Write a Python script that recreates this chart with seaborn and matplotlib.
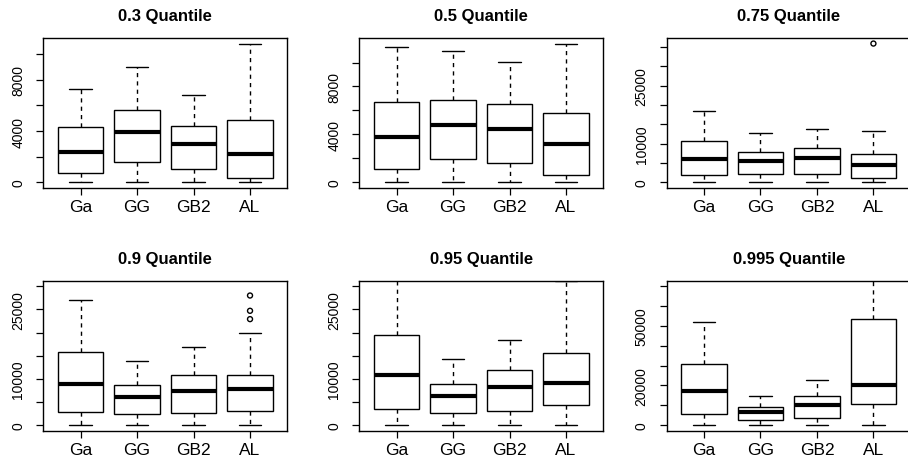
import numpy as np
import pandas as pd
import matplotlib
matplotlib.use("Agg")
import matplotlib.pyplot as plt
import seaborn as sns

sns.set_style("ticks")
plt.rcParams["font.family"] = ["Liberation Sans", "DejaVu Sans"]
plt.rcParams["text.color"] = "black"
plt.rcParams["xtick.color"] = "black"
plt.rcParams["ytick.color"] = "black"
plt.rcParams["axes.labelcolor"] = "black"

methods = ["Ga", "GG", "GB2", "AL"]
titles = ["0.3 Quantile", "0.5 Quantile", "0.75 Quantile",
          "0.9 Quantile", "0.95 Quantile", "0.995 Quantile"]

# five-number summaries: [lower whisker, Q1, median, Q3, upper whisker]
q030 = {"Ga": [0, 750, 2390, 4290, 7300], "GG": [0, 1580, 3920, 5610, 8990],
        "GB2": [0, 1060, 3010, 4440, 6780], "AL": [0, 360, 2230, 4880, 10830]}
q050 = {"Ga": [0, 1140, 3780, 6670, 11330], "GG": [0, 1940, 4780, 6860, 10970],
        "GB2": [0, 1580, 4470, 6530, 10030], "AL": [0, 610, 3220, 5750, 11580]}
q075 = {"Ga": [0, 1900, 6000, 10800, 18400], "GG": [0, 2300, 5500, 7900, 12800],
        "GB2": [0, 2200, 6200, 9000, 13800], "AL": [0, 1200, 4500, 7400, 13200]}
q090 = {"Ga": [0, 2800, 8900, 15900, 27000], "GG": [0, 2500, 6100, 8700, 13900],
        "GB2": [0, 2700, 7400, 10900, 16800], "AL": [0, 3000, 7800, 10800, 20000]}
q095 = {"Ga": [0, 3400, 10900, 19500, 36000], "GG": [0, 2600, 6200, 8900, 14200],
        "GB2": [0, 3000, 8200, 12000, 18300], "AL": [0, 4300, 9200, 15500, 31100]}
q0995 = {"Ga": [0, 5400, 17200, 30800, 52200], "GG": [0, 2700, 6400, 9300, 14800],
         "GB2": [0, 3500, 10100, 14800, 22700], "AL": [0, 10800, 20200, 53500, 90000]}

# outliers
out030 = {}
out050 = {}
out075 = {"AL": [35900]}
out090 = {"AL": [28000, 24700, 22900]}
out095 = {}
out0995 = {}

summaries = [q030, q050, q075, q090, q095, q0995]
outliers = [out030, out050, out075, out090, out095, out0995]

ylims = [None, None, None, (0, 30000), (0, 30000), (0, 70000)]
yticks = [np.arange(0, 10001, 2000), np.arange(0, 10001, 2000),
          np.arange(0, 35001, 5000), np.arange(0, 30001, 5000),
          np.arange(0, 30001, 5000), np.arange(0, 70001, 10000)]
ylabels_shown = [[0, 4000, 8000], [0, 4000, 8000], [0, 10000, 25000],
                 [0, 10000, 25000], [0, 10000, 25000], [0, 20000, 50000]]

W, H = 908, 460
fig = plt.figure(figsize=(W / 100, H / 100), dpi=100)
col_left = [43.3, 359.3, 666.7]
row_top = [39.0, 281.7]
aw, ah = 244.0, 150.0

for i in range(6):
    r, c = divmod(i, 3)
    l, t = col_left[c], row_top[r]
    ax = fig.add_axes([l / W, 1 - (t + ah) / H, aw / W, ah / H])
    summ = summaries[i]
    df = pd.DataFrame([(m, v) for m in methods for v in summ[m]],
                      columns=["method", "value"])
    sns.boxplot(data=df, x="method", y="value", order=methods, whis=(0, 100),
                width=0.8, color="white", linecolor="black", linewidth=1.0,
                showfliers=False, medianprops={"linewidth": 3.0},
                whiskerprops={"linestyle": (0, (3, 3))}, ax=ax)
    outs = outliers[i]
    allvals = list(df["value"])
    if outs:
        odf = pd.DataFrame([(m, v) for m, vs in outs.items() for v in vs],
                           columns=["method", "value"])
        sns.stripplot(data=odf, x="method", y="value", order=methods,
                      jitter=False, size=3.6, color="black", ax=ax)
        coll = ax.collections[-1]
        coll.set_facecolor("none")
        coll.set_edgecolor("black")
        coll.set_linewidth(1.0)
        allvals += list(odf["value"])
    if ylims[i] is None:
        lo, hi = min(allvals), max(allvals)
    else:
        lo, hi = ylims[i]
    pad = 0.04 * (hi - lo)
    ax.set_ylim(lo - pad, hi + pad)
    ax.set_xlim(-0.66, 3.66)
    ax.set_yticks(yticks[i])
    ax.set_yticklabels([str(int(v)) if v in ylabels_shown[i] else "" for v in yticks[i]],
                       rotation=90, va="center")
    ax.set_xlabel("")
    ax.set_ylabel("")
    ax.set_title(titles[i], fontweight="bold", fontsize=12, pad=13, color="black")
    for s in ax.spines.values():
        s.set_visible(True)
        s.set_color("black")
        s.set_linewidth(1.0)
    ax.tick_params(axis="both", direction="out", length=5, width=0.9, color="black")
    ax.tick_params(axis="x", labelsize=12.5, pad=3)
    ax.tick_params(axis="y", labelsize=10, pad=8)
    ax.grid(False)

fig.savefig("out.png", dpi=100)
